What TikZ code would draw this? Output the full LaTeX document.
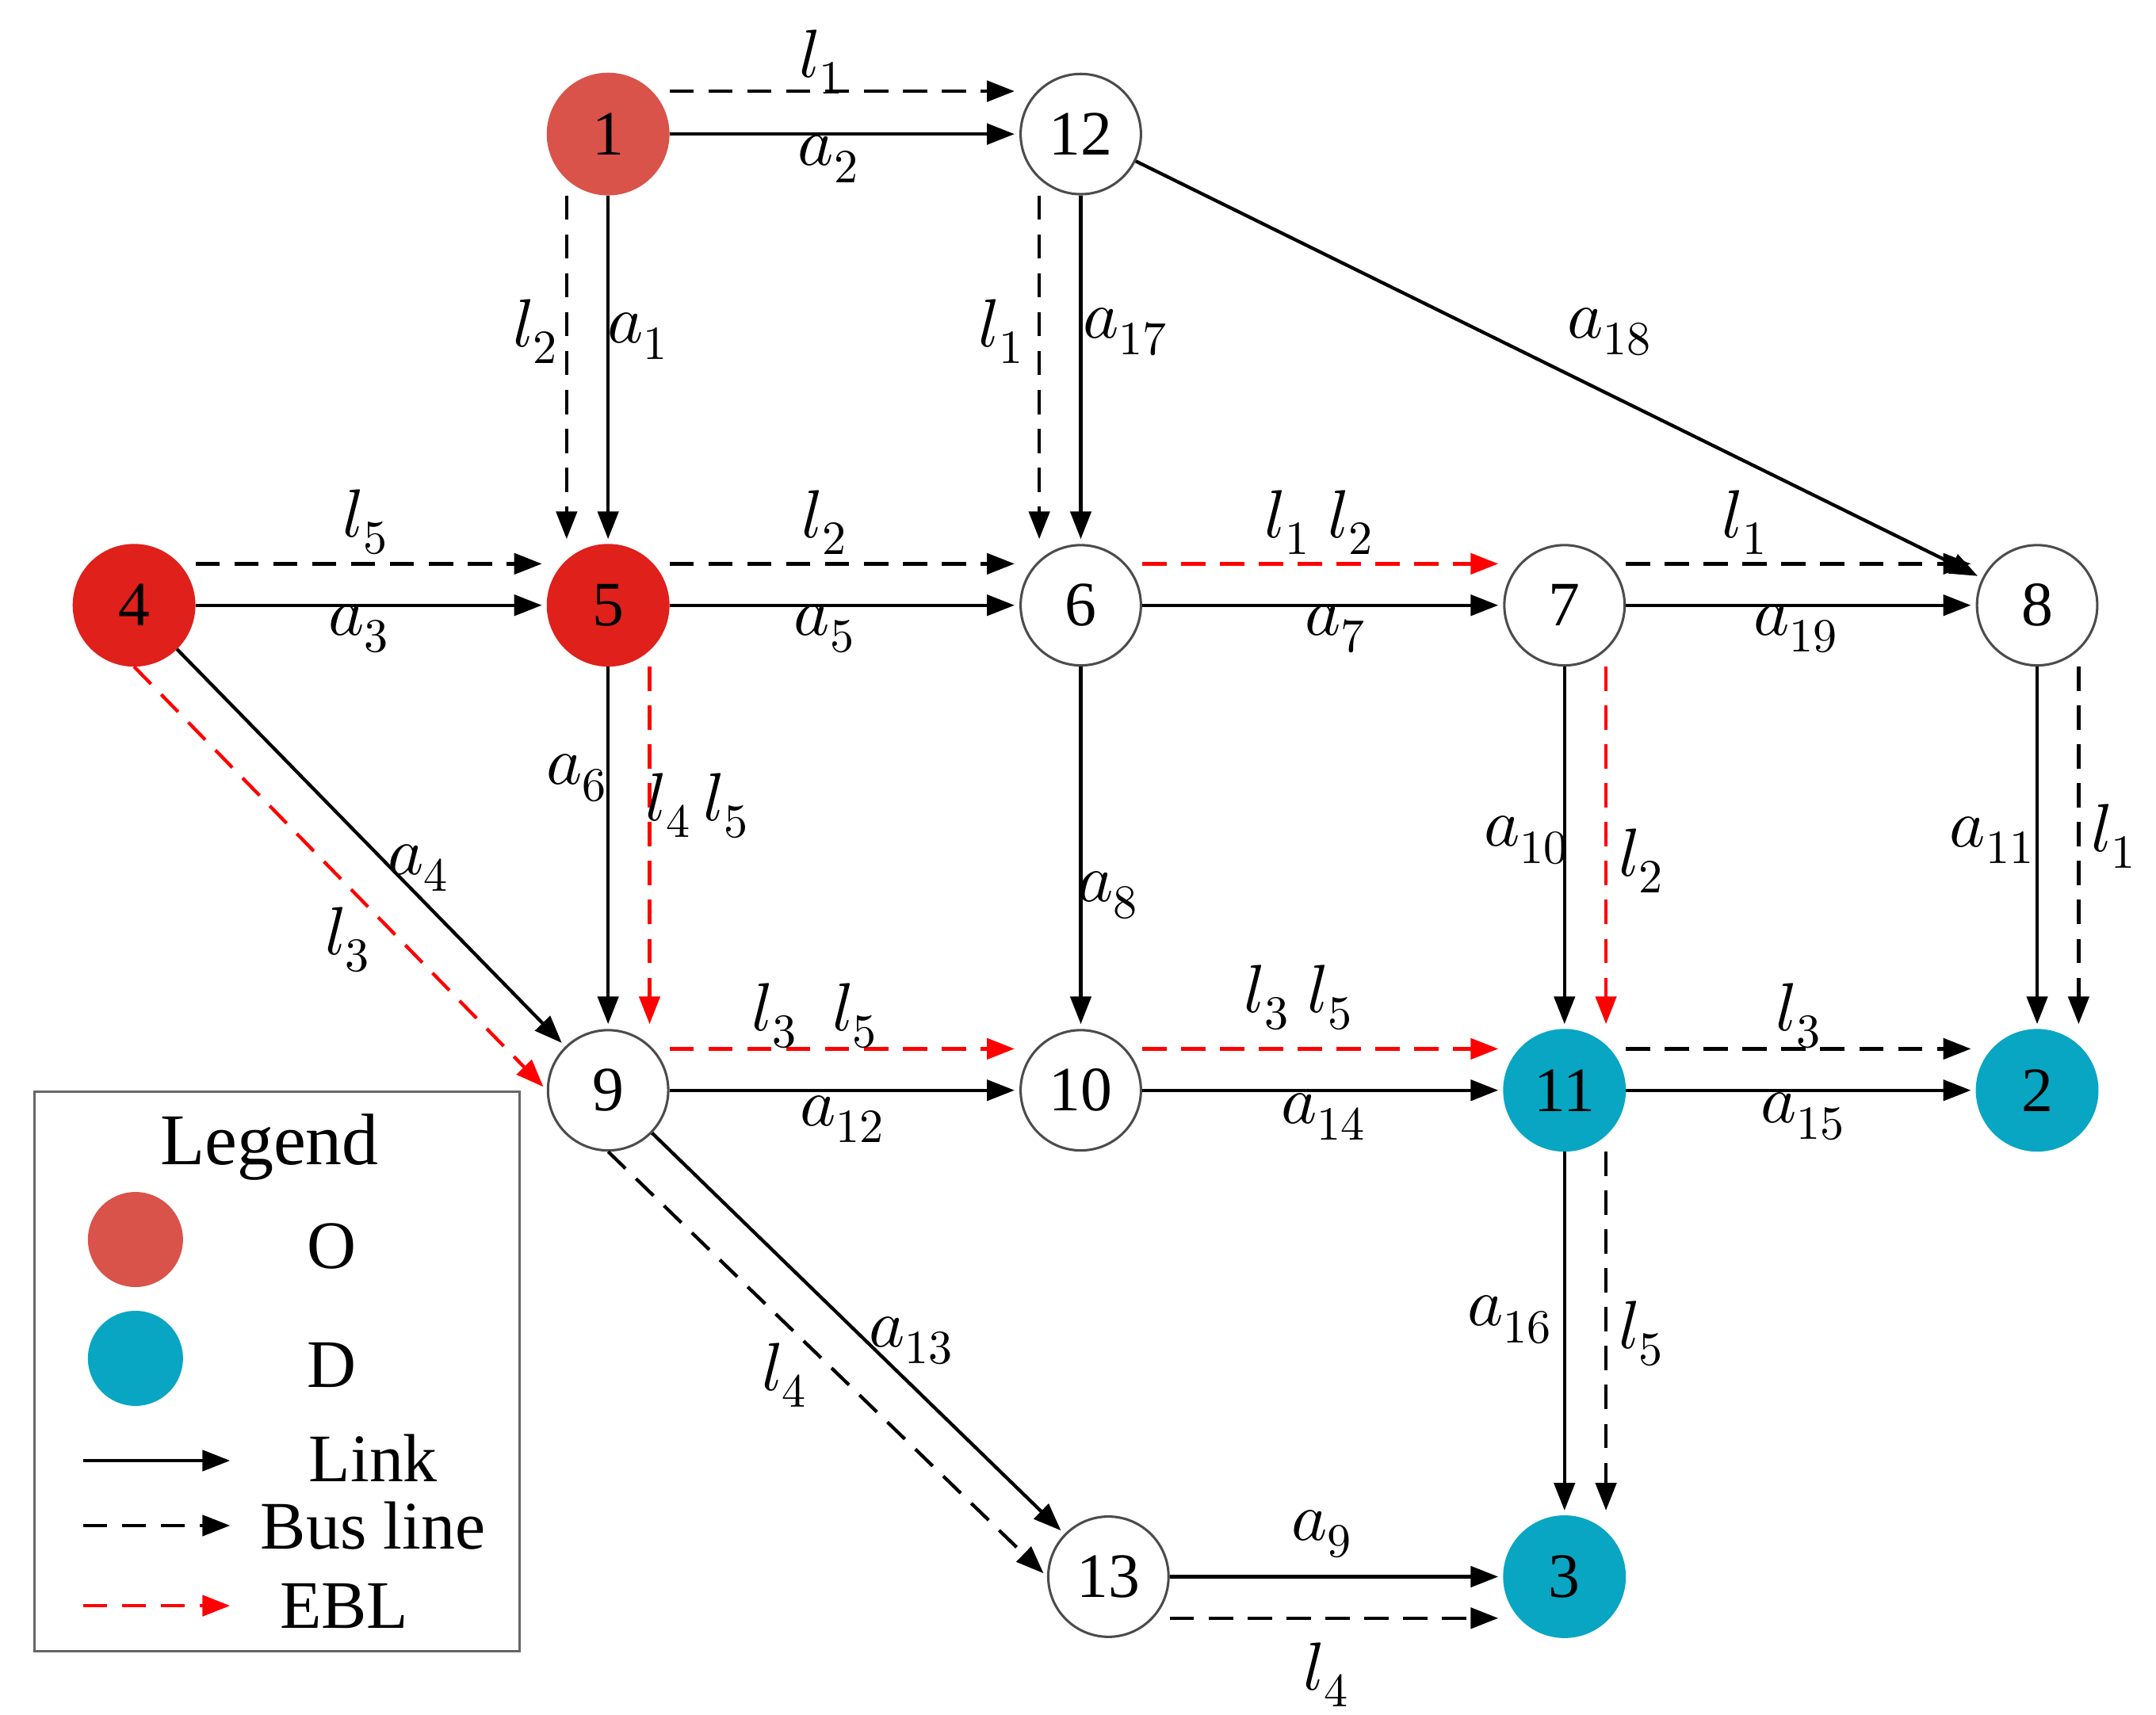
\documentclass[tikz,border=0pt]{standalone}
\usepackage{fontspec}
\setmainfont{Liberation Serif}
\usepackage{unicode-math}
\setmathfont{Latin Modern Math}
\usetikzlibrary{arrows.meta}
\definecolor{ored}{HTML}{D9534A}
\definecolor{bred}{HTML}{E0201A}
\definecolor{teal}{HTML}{08A6C2}
\begin{document}
\begin{tikzpicture}[x=0.01cm,y=-0.01cm,
  nd/.style={circle,draw=black!70,line width=0.5pt,minimum size=0.87cm,inner sep=0pt,font=\fontsize{13}{13}\selectfont},
  tip/.style={-{Triangle[length=0.2cm,width=0.15cm]}},
  ln/.style={tip,line width=0.7pt,shorten >=1pt},
  bus/.style={ln,dash pattern=on 5pt off 3pt},
  ebl/.style={ln,red,dash pattern=on 5pt off 3pt},
  lb/.style={font=\fontsize{14}{14}\selectfont}]
\useasboundingbox (0,0) rectangle (1560,1241);
\node[nd,fill=ored,draw=ored] (n1) at (440,97) {1};
\node[nd] (n12) at (782,97) {12};
\node[nd,fill=bred,draw=bred] (n4) at (97,438) {4};
\node[nd,fill=bred,draw=bred] (n5) at (440,438) {5};
\node[nd] (n6) at (782,438) {6};
\node[nd] (n7) at (1132,438) {7};
\node[nd] (n8) at (1474,438) {8};
\node[nd] (n9) at (440,789) {9};
\node[nd] (n10) at (782,789) {10};
\node[nd,fill=teal,draw=teal] (n11) at (1132,789) {11};
\node[nd,fill=teal,draw=teal] (n2) at (1474,789) {2};
\node[nd] (n13) at (802,1141) {13};
\node[nd,fill=teal,draw=teal] (n3) at (1132,1141) {3};
% solid links
\draw[ln] (n1) -- (n12);
\draw[ln] (n1) -- (n5);
\draw[ln] (n12) -- (n6);
\draw[ln] (n12) -- (n8);
\draw[ln] (n4) -- (n5);
\draw[ln] (n5) -- (n6);
\draw[ln] (n6) -- (n7);
\draw[ln] (n7) -- (n8);
\draw[ln] (n4) -- (n9);
\draw[ln] (n5) -- (n9);
\draw[ln] (n6) -- (n10);
\draw[ln] (n7) -- (n11);
\draw[ln] (n8) -- (n2);
\draw[ln] (n9) -- (n10);
\draw[ln] (n10) -- (n11);
\draw[ln] (n11) -- (n2);
\draw[ln] (n9) -- (n13);
\draw[ln] (n11) -- (n3);
\draw[ln] (n13) -- (n3);
% bus lines
\draw[bus] ([yshift=0.31cm]n1.east) -- ([yshift=0.31cm]n12.west);
\draw[bus] ([xshift=-0.3cm]n1.south) -- ([xshift=-0.3cm]n5.north);
\draw[bus] ([xshift=-0.3cm]n12.south) -- ([xshift=-0.3cm]n6.north);
\draw[bus] ([yshift=0.3cm]n4.east) -- ([yshift=0.3cm]n5.west);
\draw[bus] ([yshift=0.3cm]n5.east) -- ([yshift=0.3cm]n6.west);
\draw[bus] ([yshift=0.3cm]n7.east) -- ([yshift=0.3cm]n8.west);
\draw[bus] ([xshift=0.3cm]n8.south) -- ([xshift=0.3cm]n2.north);
\draw[bus] ([yshift=0.3cm]n11.east) -- ([yshift=0.3cm]n2.west);
\draw[bus] ([xshift=0.3cm]n11.south) -- ([xshift=0.3cm]n3.north);
\draw[bus] (n9.south) -- (n13.west);
\draw[bus] ([yshift=-0.3cm]n13.east) -- ([yshift=-0.3cm]n3.west);
% EBL
\draw[ebl] ([yshift=0.3cm]n6.east) -- ([yshift=0.3cm]n7.west);
\draw[ebl] (n4.south) -- (n9.west);
\draw[ebl] ([xshift=0.3cm]n5.south) -- ([xshift=0.3cm]n9.north);
\draw[ebl] ([xshift=0.3cm]n7.south) -- ([xshift=0.3cm]n11.north);
\draw[ebl] ([yshift=0.3cm]n9.east) -- ([yshift=0.3cm]n10.west);
\draw[ebl] ([yshift=0.3cm]n10.east) -- ([yshift=0.3cm]n11.west);
% labels
\node[lb] (t1) at (595,45) {$l_1$};
\node[lb] (t2) at (600,115) {$a_2$};
\node[lb] (t3) at (388,240) {$l_2$};
\node[lb] (t4) at (462,243) {$a_1$};
\node[lb] (t5) at (725,240) {$l_1$};
\node[lb] (t6) at (815,240) {$a_{17}$};
\node[lb] (t7) at (1165,240) {$a_{18}$};
\node[lb] (t8) at (265,378) {$l_5$};
\node[lb] (t9) at (260,455) {$a_3$};
\node[lb] (t10) at (597,378) {$l_2$};
\node[lb] (t11) at (597,455) {$a_5$};
\node[lb] (t12) at (955,378) {$l_1\ l_2$};
\node[lb] (t13) at (967,455) {$a_7$};
\node[lb] (t14) at (1263,378) {$l_1$};
\node[lb] (t15) at (1300,455) {$a_{19}$};
\node[lb] (t16) at (418,563) {$a_6$};
\node[lb] (t17) at (505,583) {$l_4\,l_5$};
\node[lb] (t18) at (303,628) {$a_4$};
\node[lb] (t19) at (252,680) {$l_3$};
\node[lb] (t20) at (802,648) {$a_8$};
\node[lb] (t21) at (1105,608) {$a_{10}$};
\node[lb] (t22) at (1188,623) {$l_2$};
\node[lb] (t23) at (1442,608) {$a_{11}$};
\node[lb] (t24) at (1530,605) {$l_1$};
\node[lb] (t25) at (590,735) {$l_3\ \ l_5$};
\node[lb] (t26) at (940,722) {$l_3\ l_5$};
\node[lb] (t27) at (1302,735) {$l_3$};
\node[lb] (t28) at (610,810) {$a_{12}$};
\node[lb] (t29) at (958,808) {$a_{14}$};
\node[lb] (t30) at (1305,808) {$a_{15}$};
\node[lb] (t31) at (660,970) {$a_{13}$};
\node[lb] (t32) at (568,995) {$l_4$};
\node[lb] (t33) at (1093,955) {$a_{16}$};
\node[lb] (t34) at (1188,965) {$l_5$};
\node[lb] (t35) at (957,1110) {$a_9$};
\node[lb] (t36) at (960,1212) {$l_4$};
% legend
\node[draw=black!60,line width=0.5pt,minimum width=3.51cm,minimum height=4.05cm,inner sep=0pt] (leg) at (200.5,992.5) {};
\node[font=\fontsize{15}{15}\selectfont] (lt) at (195,830) {Legend};
\node[nd,fill=ored,draw=ored,minimum size=0.67cm] (lo) at (98,897) {};
\node[lb] (lot) at (240,902) {O};
\node[nd,fill=teal,draw=teal,minimum size=0.67cm] (ld) at (98,983) {};
\node[lb] (ldt) at (240,988) {D};
\coordinate (a1) at (60,1057); \coordinate (a2) at (170,1057);
\coordinate (b1) at (60,1104); \coordinate (b2) at (170,1104);
\coordinate (c1) at (60,1162); \coordinate (c2) at (170,1162);
\draw[ln] (a1) -- (a2);
\draw[bus] (b1) -- (b2);
\draw[ebl] (c1) -- (c2);
\node[lb] (lk) at (270,1055) {Link};
\node[lb] (lbus) at (270,1104) {Bus line};
\node[lb] (le) at (249,1162) {EBL};
\end{tikzpicture}
\end{document}
